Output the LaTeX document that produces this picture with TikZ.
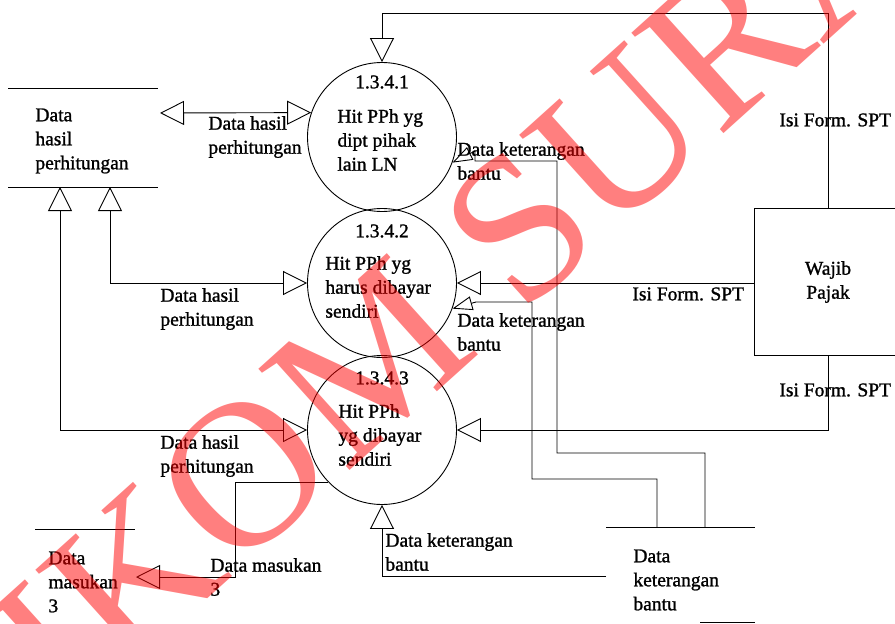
\documentclass[tikz,border=0pt]{standalone}
\usepackage{fontspec}
\setmainfont{Liberation Serif}
\newfontfamily\dfont{Liberation Serif}[FakeBold=1.2]
\usetikzlibrary{arrows.meta}
\begin{document}
\begin{tikzpicture}[x=1pt,y=-1pt,
  line width=0.9pt,
  proc/.style={draw, circle, minimum size=149pt, inner sep=0pt},
  ent/.style={draw, rectangle, inner sep=0pt},
  txt/.style={font=\dfont\fontsize{19.5}{24}\selectfont, align=left, anchor=west, inner sep=0pt},
  ctxt/.style={font=\dfont\fontsize{19.5}{24}\selectfont, align=center, inner sep=0pt},
  flow/.style={-{Triangle[open,length=24pt,width=24pt]}},
  dflow/.style={{Triangle[open,length=24pt,width=24pt]}-{Triangle[open,length=24pt,width=24pt]}},
  sflow/.style={-{Triangle[open,length=20pt,width=14pt]}},
  wmark/.style={rotate=42, anchor=base west, text=red, text opacity=0.5, inner sep=0pt, font=\fontsize{208}{208}\selectfont},
]
\useasboundingbox (0,0) rectangle (895,624);
\clip (0,0) rectangle (895,624);

% processes
\node[proc] (C1) at (382,137) {};
\node[proc] (C2) at (382,283) {};
\node[proc] (C3) at (382,430) {};
\node[ctxt] (n1) at (382,82) {1.3.4.1};
\node[txt] (t1) at (337,140) {Hit PPh yg\\dipt pihak\\lain LN};
\node[ctxt] (n2) at (382,231) {1.3.4.2};
\node[txt] (t2) at (325,287) {Hit PPh yg\\harus dibayar\\sendiri};
\node[ctxt] (n3) at (382,378) {1.3.4.3};
\node[txt] (t3) at (338,435) {Hit PPh\\yg dibayar\\sendiri};

% external entity
\node[ent, minimum width=206pt, minimum height=147pt] (W) at (857,281.5) {};
\node[ctxt] (Wt) at (828,282) {Wajib\\Pajak};

% data stores
\draw (8,88) -- (158,88);
\draw (8,187) -- (158,187);
\node[txt] (S1) at (35,141) {Data\\hasil\\perhitungan};
\draw (35,529) -- (135,529);
\node[txt] (S2) at (48,582) {Data\\masukan\\3};
\draw (606,527) -- (755,527);
\draw (700,622) -- (755,622);
\node[txt] (S3) at (633,580) {Data\\keterangan\\bantu};

% coordinates
\coordinate (s1r) at (160,113);
\coordinate (s1b1) at (60,187);
\coordinate (s1b2) at (110,187);
\coordinate (wt) at (828,208);
\coordinate (wb) at (828,355);
\coordinate (k1) at (828,13);
\coordinate (s3l) at (606,576);
\coordinate (s3a) at (705,527);
\coordinate (s3b) at (657,527);
\coordinate (a1) at (705,453);
\coordinate (a2) at (557,453);
\coordinate (a3) at (557,161);
\coordinate (a4) at (475,161);
\coordinate (a5) at (475,151);
\coordinate (b1) at (657,479);
\coordinate (b2) at (532,479);
\coordinate (b3) at (532,302);
\coordinate (b4) at (476,302);
\coordinate (s2r) at (136,577);
\coordinate (m1) at (235,577);

% flows
\draw[dflow] (s1r) -- (C1.161);
\draw[dflow] (s1b2) |- (C2.west);
\draw[dflow] (s1b1) |- (C3.west);
\draw[flow] (wt) -- (k1) -| (C1.north);
\draw[flow] (W.west |- C2.east) -- (C2.east);
\draw[flow] (wb) |- (C3.east);
\draw[flow] (s3l) -| (C3.south);
\draw[sflow] (s3a) -- (a1) -- (a2) -- (a3) -- (a4) -- (a5) -- (C1.-20);
\draw[sflow] (s3b) -- (b1) -- (b2) -- (b3) -- (b4) -- (C2.-20);
\draw[flow] (C3.224) -| (m1) -- (s2r);

% labels
\node[txt] (l1) at (208,137) {Data hasil\\perhitungan};
\node[txt] (l2) at (160,309) {Data hasil\\perhitungan};
\node[txt] (l3) at (160,456) {Data hasil\\perhitungan};
\node[txt] (l4) at (457,161) {Data keterangan\\bantu};
\node[txt] (l5) at (457,332) {Data keterangan\\bantu};
\node[txt] (l6) at (385,552) {Data keterangan\\bantu};
\node[txt] (l7) at (210,577) {Data masukan\\3};
\node[txt] (i1) at (779,120) {Isi Form. SPT};
\node[txt] (i2) at (632,294) {Isi Form. SPT};
\node[txt] (i3) at (779,390) {Isi Form. SPT};

% watermark
\node[wmark] (wm) at (-110,885) {STIKOM SURABAYA};
\end{tikzpicture}
\end{document}
